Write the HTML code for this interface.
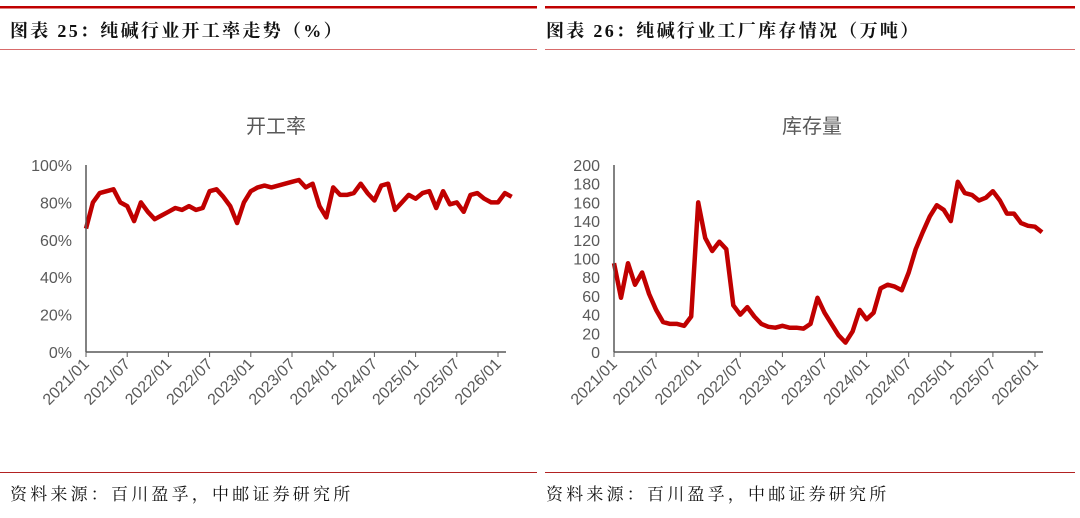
<!DOCTYPE html>
<html><head><meta charset="utf-8">
<style>
body{margin:0;background:#fff;}
svg{display:block;font-family:"Liberation Sans","Noto Sans CJK SC",sans-serif;}
.t{font-family:"Liberation Serif","Noto Serif CJK SC",serif;font-weight:bold;font-size:18px;letter-spacing:2.3px;fill:#111;}
.src{font-family:"Liberation Serif","Noto Serif CJK SC",serif;font-size:17px;letter-spacing:3.2px;fill:#111;}
.tick{font-size:16px;fill:#595959;}
.ct{font-size:20px;fill:#595959;}
</style></head>
<body>
<svg id="c" width="1080" height="518" viewBox="0 0 1080 518">
<rect x="0" y="6" width="537" height="2.5" fill="#c00000"/>
<rect x="545" y="6" width="530" height="2.5" fill="#c00000"/>
<text class="t" x="10" y="37">图表 25：纯碱行业开工率走势（%）</text>
<text class="t" x="546" y="37">图表 26：纯碱行业工厂库存情况（万吨）</text>
<rect x="0" y="49" width="537" height="1" fill="#d86b6b"/>
<rect x="545" y="49" width="530" height="1" fill="#d86b6b"/>
<rect x="0" y="472" width="537" height="1" fill="#b22222"/>
<rect x="545" y="472" width="530" height="1" fill="#b22222"/>
<text class="src" x="10" y="500">资料来源：百川盈孚，中邮证券研究所</text>
<text class="src" x="546" y="500">资料来源：百川盈孚，中邮证券研究所</text>
<text class="ct" x="276" y="133" text-anchor="middle">开工率</text>
<text class="ct" x="812" y="133" text-anchor="middle">库存量</text>
</svg>
<script>
const xLabels = ["2021/01","2021/07","2022/01","2022/07","2023/01","2023/07","2024/01","2024/07","2025/01","2025/07","2026/01"];
const rateTicks = [0,20,40,60,80,100];
const invTicks = [0,20,40,60,80,100,120,140,160,180,200];
// monthly values starting 2021/01
const rateValues = [66,80,85,86,87,80,78,70,80,75,71,73,
  75,77,76,78,76,77,86,87,83,78,69,80,
  86,88,89,88,89,90,91,92,88,90,78,72,
  88,84,84,85,90,85,81,89,90,76,80,84,
  82,85,86,77,86,79,80,75,84,85,82,80,
  80,85,83];
const invValues = [95,58,95,72,85,62,45,32,30,30,28,38,
  160,122,108,118,110,50,40,48,38,30,27,26,
  28,26,26,25,30,58,42,30,18,10,22,45,
  35,42,68,72,70,66,85,110,128,145,157,152,
  140,182,170,168,162,165,172,162,148,148,138,135,
  134,128];

const svg = document.getElementById('c');
const NS = 'http://www.w3.org/2000/svg';
function mk(tag, attrs){const e=document.createElementNS(NS,tag);for(const k in attrs)e.setAttribute(k,attrs[k]);svg.appendChild(e);return e;}

function drawChart(o){
  const xScale = m => o.x0 + (o.x1 - o.x0) * m / 60;
  const yScale = v => o.yb - (o.yb - o.yt) * v / o.ymax;
  o.ticks.forEach(t=>{
    const e = mk('text',{class:'tick',x:o.x0-14,y:yScale(t)+6,'text-anchor':'end'});
    e.textContent = t + o.suffix;
    
    
  });
  xLabels.forEach((l,i)=>{
    const x = xScale(i*6);
    const tk = mk('line',{x1:x,x2:x,y1:o.yb,y2:o.yb+5,stroke:'#595959','stroke-width':1});
    
    
    const e = mk('text',{class:'tick',x:x+4,y:o.yb+13,'text-anchor':'end',transform:`rotate(-45 ${x+4} ${o.yb+13})`});
    e.textContent = l;
    
    
  });
  const pts = o.values.map((v,i)=>xScale(i).toFixed(1)+','+yScale(v).toFixed(1)).join(' ');
  const pl = mk('polyline',{points:pts,fill:'none',stroke:'#c00000','stroke-width':4.5,'stroke-linejoin':'round'});
  
  
  const ya = mk('line',{x1:o.x0,x2:o.x0,y1:o.yt,y2:o.yb,stroke:'#595959','stroke-width':1.5});
  
  
  const xa = mk('line',{x1:o.x0,x2:o.xe,y1:o.yb,y2:o.yb,stroke:'#595959','stroke-width':1.5});
  
  
}
drawChart({id:'rate',x0:86,x1:498,xe:506,yt:165,yb:352,ymax:100,ticks:rateTicks,suffix:'%',values:rateValues});
drawChart({id:'inventory',x0:614,x1:1035,xe:1043,yt:165,yb:352,ymax:200,ticks:invTicks,suffix:'',values:invValues});
</script>
</body></html>
